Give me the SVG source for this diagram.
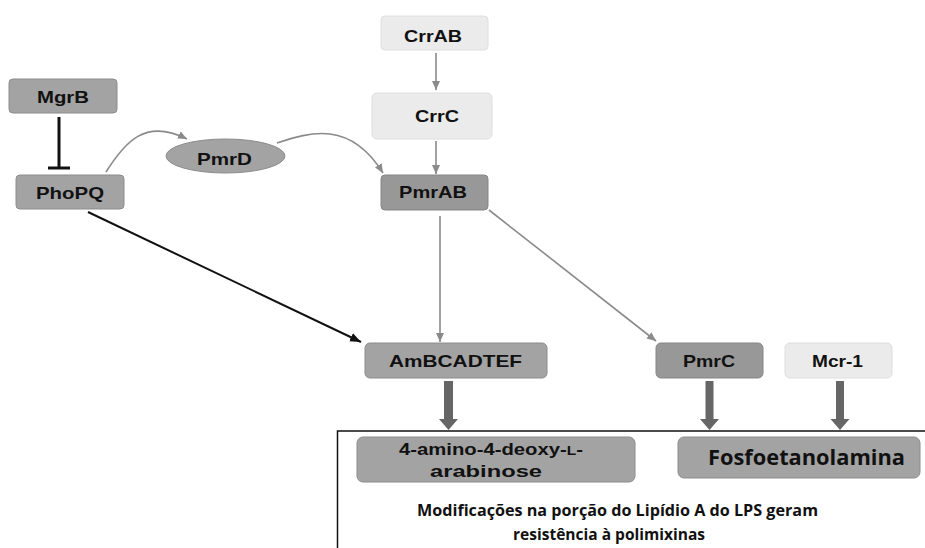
<svg xmlns="http://www.w3.org/2000/svg" width="925" height="548" viewBox="0 0 925 548">
<defs>
<marker id="ag" markerUnits="userSpaceOnUse" markerWidth="9" markerHeight="8" refX="9" refY="4" orient="auto"><path d="M0,0 L9,4 L0,8 z" fill="#8a8a8a"/></marker>
<marker id="ab" markerUnits="userSpaceOnUse" markerWidth="11" markerHeight="9" refX="11" refY="4.5" orient="auto"><path d="M0,0 L11,4.5 L0,9 z" fill="#111"/></marker>
<style>
.dk{fill:#a3a3a3;stroke:#8c8c8c;stroke-width:1}
.dk2{fill:#989898;stroke:#858585;stroke-width:1}
.lt{fill:#ebebeb;stroke:#dedede;stroke-width:1}
.t{font-family:"Liberation Sans",Arial,sans-serif;font-weight:bold;font-size:17px;fill:#111;text-anchor:middle}
.c{font-family:"Open Sans","Noto Sans",sans-serif;font-weight:bold;fill:#111;text-anchor:middle}
.g{fill:none;stroke:#8a8a8a;stroke-width:1.6}
.thick{fill:#666}
</style>
</defs>
<rect width="925" height="548" fill="#fff"/>
<g id="connectors">
<line x1="59" y1="117" x2="59" y2="168" stroke="#111" stroke-width="3"/>
<line x1="48" y1="168" x2="70" y2="168" stroke="#111" stroke-width="3"/>
<path class="g" d="M106,172 C125,142 145,118 187,139" marker-end="url(#ag)"/>
<path class="g" d="M277,143 C310,132 350,120 383,173" marker-end="url(#ag)"/>
<line class="g" x1="436" y1="53" x2="436" y2="90" marker-end="url(#ag)"/>
<line class="g" x1="436" y1="141" x2="436" y2="174" marker-end="url(#ag)"/>
<line class="g" x1="440" y1="216" x2="440" y2="342" marker-end="url(#ag)"/>
<line class="g" x1="489" y1="210" x2="656" y2="341" marker-end="url(#ag)"/>
<line x1="88" y1="212" x2="361" y2="342" stroke="#111" stroke-width="2" marker-end="url(#ab)"/>
<path class="thick" d="M444,381 H453 V419 H458 L448.5,430 L439,419 H444 Z"/>
<path class="thick" d="M705.5,381 H713.5 V419 H719 L709.5,430 L700,419 H705.5 Z"/>
<path class="thick" d="M836,381 H844 V419 H849.5 L840,430 L830.5,419 H836 Z"/>
<polyline points="925,431 337.5,431 337.5,548" fill="none" stroke="#111" stroke-width="1.5"/>
</g>
<g id="MgrB"><rect class="dk" x="9" y="79" width="108" height="34" rx="4"/><text class="t" x="63" y="103" textLength="52" lengthAdjust="spacingAndGlyphs">MgrB</text></g>
<g id="PhoPQ"><rect class="dk" x="16" y="175" width="108" height="34" rx="4"/><text class="t" x="70" y="199" textLength="68" lengthAdjust="spacingAndGlyphs">PhoPQ</text></g>
<g id="PmrD"><ellipse class="dk" cx="225.5" cy="156" rx="59.5" ry="17"/><text class="t" x="224.5" y="165" textLength="55" lengthAdjust="spacingAndGlyphs">PmrD</text></g>
<g id="CrrAB"><rect class="lt" x="381" y="16" width="107" height="34" rx="4"/><text class="t" x="433" y="42" textLength="58" lengthAdjust="spacingAndGlyphs">CrrAB</text></g>
<g id="CrrC"><rect class="lt" x="372" y="93" width="120" height="46" rx="5"/><text class="t" x="437" y="122" textLength="44" lengthAdjust="spacingAndGlyphs">CrrC</text></g>
<g id="PmrAB"><rect class="dk2" x="381" y="175" width="107" height="35" rx="4"/><text class="t" x="433" y="198" textLength="68" lengthAdjust="spacingAndGlyphs">PmrAB</text></g>
<g id="AmBCADTEF"><rect class="dk" x="365" y="343" width="182" height="35" rx="5"/><text class="t" x="455.5" y="367" textLength="133" lengthAdjust="spacingAndGlyphs">AmBCADTEF</text></g>
<g id="PmrC"><rect class="dk2" x="656" y="343" width="107" height="35" rx="5"/><text class="t" x="709" y="367" textLength="52" lengthAdjust="spacingAndGlyphs">PmrC</text></g>
<g id="Mcr-1"><rect class="lt" x="785" y="343" width="107" height="35" rx="5"/><text class="t" x="837.5" y="367" textLength="51" lengthAdjust="spacingAndGlyphs">Mcr-1</text></g>
<g id="arabinose"><rect class="dk" x="357" y="437" width="278" height="45" rx="6"/><text class="t" x="491" y="455" textLength="184" lengthAdjust="spacingAndGlyphs">4-amino-4-deoxy-<tspan font-size="13">L</tspan>-</text><text class="t" x="486" y="477" textLength="112" lengthAdjust="spacingAndGlyphs">arabinose</text></g>
<g id="Fosfoetanolamina"><rect class="dk" x="678" y="437" width="242" height="41" rx="6"/><text class="c" x="806.5" y="465" font-size="22" textLength="197" lengthAdjust="spacingAndGlyphs">Fosfoetanolamina</text></g>
<g id="caption"><text class="c" x="617.5" y="516" font-size="16.5" textLength="401" lengthAdjust="spacingAndGlyphs">Modificações na porção do Lipídio A do LPS geram</text><text class="c" x="609" y="540" font-size="16.5" textLength="192" lengthAdjust="spacingAndGlyphs">resistência à polimixinas</text></g>
</svg>
